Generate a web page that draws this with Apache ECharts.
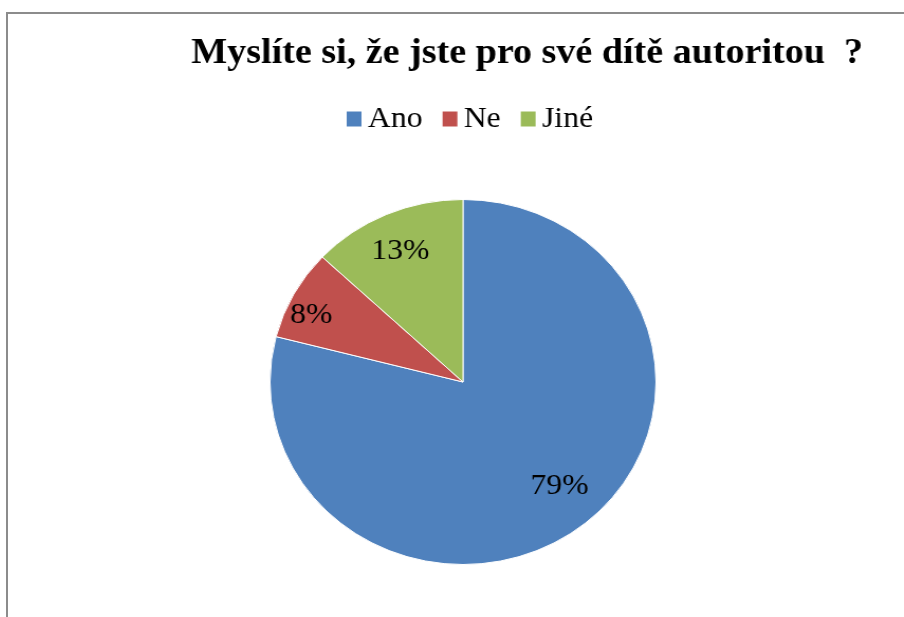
<!DOCTYPE html>
<html>
<head>
<meta charset="utf-8">
<script src="https://cdn.jsdelivr.net/npm/echarts@6/dist/echarts.min.js"></script>
<style>
  html, body { margin: 0; padding: 0; background: #fff; overflow: hidden; }
  .frame {
    position: absolute; left: 6px; top: 12px; width: 920px; height: 620px;
    border-top: 2px solid #8c8c8c; border-left: 2px solid #8c8c8c;
  }
  /* the original picture is stretched a little sideways (the pie is an ellipse) */
  #chart {
    position: absolute; left: 0; top: 0; width: 904px; height: 617px;
    transform: scaleX(1.0575); transform-origin: 463px 0;
  }
</style>
</head>
<body>
<div class="frame"></div>
<div id="chart"></div>
<script>
  const titleText = 'Myslíte si, že jste pro své dítě autoritou  ?';
  const categories = ['Ano', 'Ne', 'Jiné'];
  const values = [79, 8, 13];
  const colors = ['#4F81BD', '#C0504D', '#9BBB59'];

  const pieData = categories.map((name, i) => ({
    name: name,
    value: values[i],
    itemStyle: { color: colors[i] }
  }));

  // small nudges so the labels sit where Excel put them
  const labelNudge = [[0, -14], [-13, 5], [0, 6]];

  const chart = echarts.init(document.getElementById('chart'), null, { renderer: 'canvas' });
  chart.setOption({
    backgroundColor: 'transparent',
    animation: false,
    title: {
      text: titleText,
      left: 201,
      top: 31,
      textStyle: {
        fontFamily: 'Liberation Serif',
        fontWeight: 'bold',
        fontSize: 36,
        color: '#000'
      }
    },
    legend: {
      data: categories,
      top: 99,
      left: 348,
      icon: 'rect',
      itemWidth: 14,
      itemHeight: 15,
      itemGap: 19,
      selectedMode: false,
      itemStyle: { borderWidth: 0 },
      textStyle: {
        fontFamily: 'Liberation Serif',
        fontSize: 30,
        color: '#000',
        padding: [0, 0, 0, 1]
      }
    },
    series: [{
      name: 'pie',
      type: 'pie',
      center: [463, 382],
      radius: 182.5,
      startAngle: 90,
      clockwise: true,
      silent: true,
      itemStyle: { borderColor: '#fff', borderWidth: 1 },
      label: { show: false },
      labelLine: { show: false },
      data: pieData
    }, {
      // transparent ring only used to place the percentage labels further out
      name: 'labels',
      type: 'pie',
      center: [463, 382],
      radius: [0, 292],
      startAngle: 90,
      clockwise: true,
      silent: true,
      itemStyle: { color: 'transparent', borderWidth: 0 },
      label: {
        show: true,
        position: 'inside',
        formatter: p => p.value + '%',
        fontFamily: 'Liberation Serif',
        fontSize: 30,
        color: '#000'
      },
      labelLine: { show: false },
      labelLayout: p => ({ dx: labelNudge[p.dataIndex][0], dy: labelNudge[p.dataIndex][1] }),
      data: categories.map((name, i) => ({ name: name, value: values[i] }))
    }]
  });
</script>
</body>
</html>
